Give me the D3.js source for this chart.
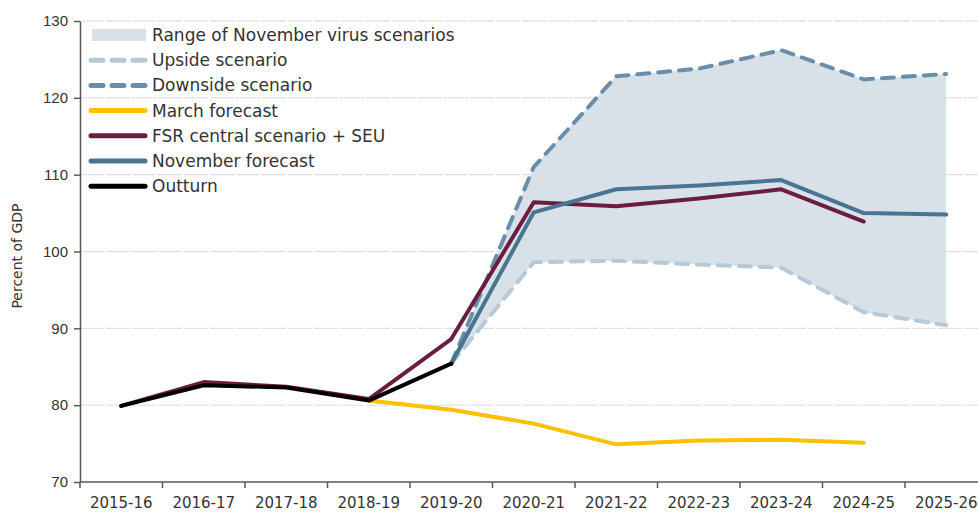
<!DOCTYPE html>
<html>
<head>
<meta charset="utf-8">
<script src="https://cdn.jsdelivr.net/npm/d3@7"></script>
<style>
  body { margin: 0; background: #fff; }
  svg { display: block; font-family: "DejaVu Sans", "Noto Sans", sans-serif; }
</style>
</head>
<body>
<div id="chart"></div>
<script>
var years = ["2015-16", "2016-17", "2017-18", "2018-19", "2019-20", "2020-21",
             "2021-22", "2022-23", "2023-24", "2024-25", "2025-26"];
var yTicks = [70, 80, 90, 100, 110, 120, 130];

// values per year, null where the series has no value
var outturn  = [79.9, 82.6, 82.3, 80.6, 85.4, null, null, null, null, null, null];
var fsr      = [79.9, 83.0, 82.4, 80.8, 88.6, 106.4, 105.9, 106.9, 108.1, 103.9, null];
var march    = [null, null, null, 80.6, 79.4, 77.6, 74.9, 75.4, 75.5, 75.1, null];
var november = [null, null, null, null, 85.4, 105.1, 108.1, 108.6, 109.3, 105.0, 104.8];
var upside   = [null, null, null, null, 85.4, 98.6, 98.8, 98.3, 97.9, 92.1, 90.4];
var downside = [null, null, null, null, 85.4, 111.0, 122.8, 123.8, 126.2, 122.4, 123.1];

var width = 978, height = 512;
var plotLeft = 80, plotTop = 21, plotBottom = 482;
var band = 82.5;

var svg = d3.select("#chart").append("svg")
    .attr("width", width)
    .attr("height", height);

var x = d3.scaleBand()
    .domain(years)
    .range([plotLeft, plotLeft + band * years.length]);

var y = d3.scaleLinear()
    .domain([70, 130])
    .range([plotBottom, plotTop]);

function cx(i) { return x(years[i]) + x.bandwidth() / 2; }

// gridlines
svg.append("g").selectAll("line")
    .data(yTicks.filter(function (d) { return d > 70; }))
    .enter().append("line")
    .attr("x1", plotLeft).attr("x2", width)
    .attr("y1", function (d) { return y(d); })
    .attr("y2", function (d) { return y(d); })
    .attr("stroke", "#d9d9d9")
    .attr("stroke-width", 1)
    .attr("stroke-dasharray", "24,2");

// range area between upside and downside
var rangeIdx = d3.range(years.length).filter(function (i) { return upside[i] != null; });
svg.append("path")
    .datum(rangeIdx)
    .attr("fill", "#d9e1e8")
    .attr("d", d3.area()
        .x(function (i) { return cx(i); })
        .y0(function (i) { return y(upside[i]); })
        .y1(function (i) { return y(downside[i]); }));

function drawLine(values, color, w, dash) {
    var line = d3.line()
        .defined(function (d) { return d != null; })
        .x(function (d, i) { return cx(i); })
        .y(function (d) { return y(d); });
    var p = svg.append("path")
        .datum(values)
        .attr("fill", "none")
        .attr("stroke", color)
        .attr("stroke-width", w)
        .attr("stroke-linejoin", "round")
        .attr("stroke-linecap", "round")
        .attr("d", line);
    if (dash) p.attr("stroke-dasharray", dash);
}

drawLine(upside, "#b7c8d6", 4, "12,9");
drawLine(downside, "#6a8ea9", 4, "12,9");
drawLine(march, "#ffc000", 4);
drawLine(fsr, "#6b1d41", 4);
drawLine(november, "#4a7590", 4);
drawLine(outturn, "#000000", 4);

// y axis
var yAxis = svg.append("g")
    .attr("transform", "translate(" + plotLeft + ",0)")
    .call(d3.axisLeft(y).tickValues(yTicks).tickSize(6).tickSizeOuter(0).tickPadding(6));
yAxis.select(".domain").attr("stroke", "#595959").attr("stroke-width", 1.5);
yAxis.selectAll(".tick line").attr("stroke", "#595959").attr("stroke-width", 1.5);
yAxis.selectAll("text").attr("font-size", 15).attr("fill", "#333");

// x axis
var xAxis = svg.append("g")
    .attr("transform", "translate(0," + plotBottom + ")");
xAxis.append("line")
    .attr("x1", plotLeft).attr("x2", width)
    .attr("stroke", "#595959").attr("stroke-width", 1.5);
xAxis.selectAll(".tk")
    .data(years)
    .enter().append("line")
    .attr("class", "tk")
    .attr("x1", function (d) { return x(d); })
    .attr("x2", function (d) { return x(d); })
    .attr("y1", 0).attr("y2", 6)
    .attr("stroke", "#595959").attr("stroke-width", 1.5);
xAxis.selectAll("text")
    .data(years)
    .enter().append("text")
    .attr("x", function (d, i) { return cx(i); })
    .attr("y", 26)
    .attr("text-anchor", "middle")
    .attr("font-size", 15)
    .attr("fill", "#333")
    .text(function (d) { return d; });

// y label
svg.append("text")
    .attr("transform", "translate(22,256) rotate(-90)")
    .attr("text-anchor", "middle")
    .attr("font-size", 14)
    .attr("fill", "#333")
    .text("Percent of GDP");

// legend
var legend = [
    { name: "Range of November virus scenarios", type: "area", color: "#d9e1e8" },
    { name: "Upside scenario", type: "dash", color: "#b7c8d6" },
    { name: "Downside scenario", type: "dash", color: "#6a8ea9" },
    { name: "March forecast", type: "line", color: "#ffc000" },
    { name: "FSR central scenario + SEU", type: "line", color: "#6b1d41" },
    { name: "November forecast", type: "line", color: "#4a7590" },
    { name: "Outturn", type: "line", color: "#000000" }
];

var lg = svg.append("g").selectAll("g")
    .data(legend)
    .enter().append("g")
    .attr("transform", function (d, i) { return "translate(0," + (35 + i * 25.2) + ")"; });

lg.filter(function (d) { return d.type == "area"; })
    .append("rect")
    .attr("x", 92).attr("y", -6).attr("width", 54).attr("height", 12)
    .attr("fill", function (d) { return d.color; });

lg.filter(function (d) { return d.type != "area"; })
    .append("line")
    .attr("x1", 91).attr("x2", 145)
    .attr("stroke", function (d) { return d.color; })
    .attr("stroke-width", 5)
    .attr("stroke-linecap", "round")
    .attr("stroke-dasharray", function (d) { return d.type == "dash" ? "12,9" : null; });

lg.append("text")
    .attr("x", 152)
    .attr("y", 6)
    .attr("font-size", 17)
    .attr("fill", "#333")
    .text(function (d) { return d.name; });
</script>
</body>
</html>
